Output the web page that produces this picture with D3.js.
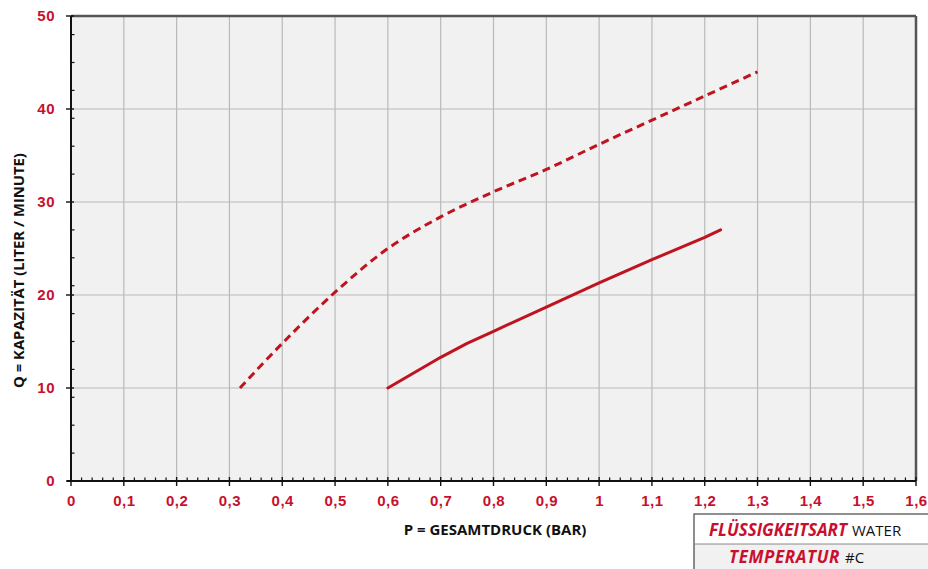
<!DOCTYPE html>
<html>
<head>
<meta charset="utf-8">
<script src="https://cdn.jsdelivr.net/npm/d3@7"></script>
<style>
  body { margin: 0; background: #fff; }
  svg { display: block; font-family: "Open Sans", Lato, sans-serif; }
</style>
</head>
<body>
<div id="chart"></div>
<script>
// data
const dashedP = [0.32, 0.4, 0.5, 0.6, 0.7, 0.8, 0.9, 1.0, 1.1, 1.2, 1.3];
const dashedQ = [10, 14.8, 20.3, 25.0, 28.4, 31.1, 33.5, 36.2, 38.8, 41.4, 44];
const solidP = [0.6, 0.7, 0.75, 0.8, 0.9, 1.0, 1.1, 1.2, 1.23];
const solidQ = [10, 13.3, 14.8, 16.1, 18.7, 21.3, 23.8, 26.2, 27];
const xTicks = [0, 0.1, 0.2, 0.3, 0.4, 0.5, 0.6, 0.7, 0.8, 0.9, 1, 1.1, 1.2, 1.3, 1.4, 1.5, 1.6];
const yTicks = [0, 10, 20, 30, 40, 50];
const xTitle = "P = GESAMTDRUCK (BAR)";
const yTitle = "Q = KAPAZITÄT (LITER / MINUTE)";
const tableRows = [["FLÜSSIGKEITSART", "WATER"], ["TEMPERATUR", "#C"]];

const red = "#c8102e";
const lineRed = "#bf1420";

const svgWidth = 928, svgHeight = 569;
const margin = {top: 16, right: 12, bottom: 88, left: 71};
const width = svgWidth - margin.left - margin.right;
const height = svgHeight - margin.top - margin.bottom;

const svg = d3.select("#chart").append("svg")
    .attr("width", svgWidth)
    .attr("height", svgHeight);

const g = svg.append("g")
    .attr("transform", `translate(${margin.left},${margin.top})`);

const xscale = d3.scaleLinear().domain([0, 1.6]).range([0, width]);
const yscale = d3.scaleLinear().domain([0, 50]).range([height, 0]);

// background
g.append("rect")
    .attr("width", width)
    .attr("height", height)
    .attr("fill", "#f1f1f1");

// grid
g.append("g").selectAll("line")
    .data(xTicks.slice(1))
    .join("line")
    .attr("x1", d => xscale(d)).attr("x2", d => xscale(d))
    .attr("y1", 0).attr("y2", height)
    .attr("stroke", "#b9b9b9").attr("stroke-width", 1.2);

g.append("g").selectAll("line")
    .data(yTicks.slice(1, -1))
    .join("line")
    .attr("x1", 0).attr("x2", width)
    .attr("y1", d => yscale(d)).attr("y2", d => yscale(d))
    .attr("stroke", "#b9b9b9").attr("stroke-width", 1.2);

// frame top / right
g.append("line").attr("x1", 0).attr("x2", width).attr("y1", 0).attr("y2", 0)
    .attr("stroke", "#555").attr("stroke-width", 2.5);
g.append("line").attr("x1", width).attr("x2", width).attr("y1", 0).attr("y2", height)
    .attr("stroke", "#555").attr("stroke-width", 2.5);

// minor ticks
const xMinor = d3.range(0, 1.6001, 0.02).filter(v => Math.abs(v * 10 - Math.round(v * 10)) > 1e-6);
const yMinor = d3.range(3, 50, 3).filter(v => v % 10 !== 0);

const xAxis = d3.axisBottom(xscale)
    .tickValues(xTicks)
    .tickSize(0)
    .tickPadding(14)
    .tickFormat(d => d3.format("")(d).replace(".", ","));

const gX = g.append("g")
    .attr("transform", `translate(0,${height})`)
    .call(xAxis);
gX.select(".domain").remove();
gX.selectAll("text")
    .attr("fill", red)
    .attr("font-size", 15)
    .attr("font-weight", 700)
    .attr("letter-spacing", 0.5);

const yAxis = d3.axisLeft(yscale)
    .tickValues(yTicks)
    .tickSize(0)
    .tickPadding(16);

const gY = g.append("g").call(yAxis);
gY.select(".domain").remove();
gY.selectAll("text")
    .attr("fill", red)
    .attr("font-size", 15)
    .attr("font-weight", 700)
    .attr("letter-spacing", 0.5);

// axis lines
g.append("line").attr("x1", -4).attr("x2", width).attr("y1", height).attr("y2", height)
    .attr("stroke", "#111").attr("stroke-width", 2);
g.append("line").attr("x1", 0).attr("x2", 0).attr("y1", 0).attr("y2", height)
    .attr("stroke", "#111").attr("stroke-width", 2);

g.append("g").selectAll("line")
    .data(xMinor)
    .join("line")
    .attr("x1", d => xscale(d)).attr("x2", d => xscale(d))
    .attr("y1", height - 3.5).attr("y2", height)
    .attr("stroke", "#111").attr("stroke-width", 1.2);

g.append("g").selectAll("line")
    .data(xTicks)
    .join("line")
    .attr("x1", d => xscale(d)).attr("x2", d => xscale(d))
    .attr("y1", height - 4).attr("y2", height + 5)
    .attr("stroke", "#111").attr("stroke-width", 1.4);

g.append("g").selectAll("line")
    .data(yMinor)
    .join("line")
    .attr("x1", 0).attr("x2", 3.5)
    .attr("y1", d => yscale(d)).attr("y2", d => yscale(d))
    .attr("stroke", "#111").attr("stroke-width", 1.2);

g.append("g").selectAll("line")
    .data(yTicks)
    .join("line")
    .attr("x1", -5).attr("x2", 3)
    .attr("y1", d => yscale(d)).attr("y2", d => yscale(d))
    .attr("stroke", "#111").attr("stroke-width", 1.4);

// curves
const dashLine = d3.line()
    .x(d => xscale(d[0]))
    .y(d => yscale(d[1]))
    .curve(d3.curveCatmullRom.alpha(0.5));

const solidLine = d3.line()
    .x(d => xscale(d[0]))
    .y(d => yscale(d[1]));

g.append("path")
    .datum(d3.zip(dashedP, dashedQ))
    .attr("fill", "none")
    .attr("stroke", lineRed)
    .attr("stroke-width", 3)
    .attr("stroke-dasharray", "8,5")
    .attr("d", dashLine);

g.append("path")
    .datum(d3.zip(solidP, solidQ))
    .attr("fill", "none")
    .attr("stroke", lineRed)
    .attr("stroke-width", 3)
    .attr("stroke-linecap", "round")
    .attr("stroke-linejoin", "round")
    .attr("d", solidLine);

// axis titles
svg.append("text")
    .attr("x", 495)
    .attr("y", 535)
    .attr("text-anchor", "middle")
    .attr("font-size", 15)
    .attr("font-weight", 700)
    .attr("fill", "#111")
    .text(xTitle);

svg.append("text")
    .attr("transform", `translate(24,${margin.top + height / 2 + 22}) rotate(-90)`)
    .attr("text-anchor", "middle")
    .attr("font-size", 14.8)
    .attr("font-weight", 700)
    .attr("fill", "#111")
    .text(yTitle);

// info table
const table = svg.append("g").attr("transform", "translate(694,514)");
table.append("rect").attr("x", 0).attr("y", 30).attr("width", 240).attr("height", 30)
    .attr("fill", "#f1f1f1");
table.append("rect").attr("x", 0).attr("y", 0).attr("width", 240).attr("height", 60)
    .attr("fill", "none").attr("stroke", "#444").attr("stroke-width", 1.2);
table.append("line").attr("x1", 0).attr("x2", 240).attr("y1", 30).attr("y2", 30)
    .attr("stroke", "#888").attr("stroke-width", 1);

const labelRight = [153, 146];
const labelSize = [17, 17];
const labelBase = [22, 49];
tableRows.forEach((r, i) => {
    table.append("text")
        .attr("x", labelRight[i])
        .attr("y", labelBase[i])
        .attr("text-anchor", "end")
        .attr("font-size", labelSize[i])
        .attr("font-weight", 700)
        .attr("font-style", "italic")
        .attr("letter-spacing", i === 1 ? 0.6 : 0)
        .attr("fill", red)
        .text(r[0]);
    table.append("text")
        .attr("x", labelRight[i] + 5)
        .attr("y", labelBase[i])
        .attr("font-size", 15)
        .attr("fill", "#111")
        .text(r[1]);
});
</script>
</body>
</html>
